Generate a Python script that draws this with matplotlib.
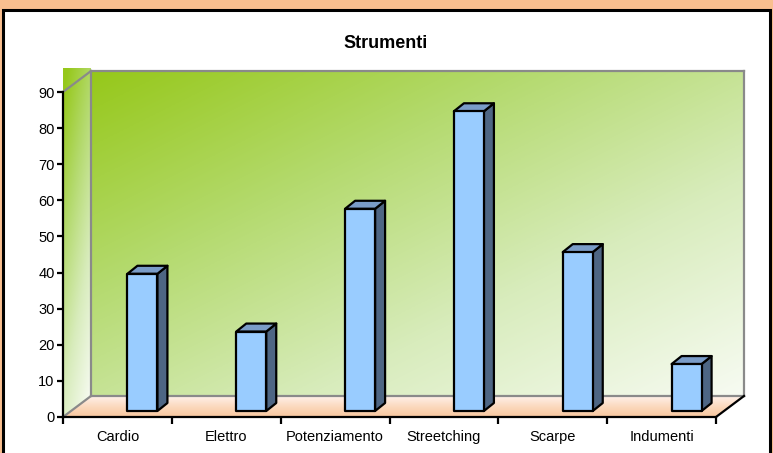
import numpy as np
import matplotlib
matplotlib.use("Agg")
import matplotlib.pyplot as plt
from matplotlib.patches import Polygon, Rectangle
from matplotlib.colors import LinearSegmentedColormap
from matplotlib.lines import Line2D

# ---------------- data ----------------
categories = ['Cardio', 'Elettro', 'Potenziamento', 'Streetching', 'Scarpe', 'Indumenti']
values = [38, 22, 56, 83, 44, 13]
yticks = list(range(0, 91, 10))
title = 'Strumenti'

# ---------------- layout (pixels) ----------------
W, H = 773, 453
L, R, B, T = 63, 716, 417, 92          # front plot box (pixel coords, y from top)
plt.rcParams['font.family'] = ['Liberation Sans', 'DejaVu Sans']

fig = plt.figure(figsize=(W / 100, H / 100), dpi=100, facecolor='#F9BF8F')
fig.patches.append(Rectangle((3 / W, -0.1), (770 - 3) / W, (H - 10) / H + 0.1,
                             transform=fig.transFigure, facecolor='white',
                             edgecolor='black', lw=2.2, zorder=-5))

ax = fig.add_axes([L / W, 1 - B / H, (R - L) / W, (B - T) / H])
ax.set_zorder(2)
ax.patch.set_visible(False)
n = len(categories)
xmin, xmax = -0.5, n - 0.5
ymin, ymax = 0, 90
sx = (xmax - xmin) / (R - L)           # data units per pixel
sy = (ymax - ymin) / (B - T)
DX, DY = 28 * sx, 21 * sy              # depth of the 3-D walls


def grad(extent, clip_pts, func, colors, z):
    u = np.linspace(0, 1, 200)
    U, V = np.meshgrid(u, u)
    Z = np.clip(func(U, V), 0, 1)
    cmap = LinearSegmentedColormap.from_list('g', colors)
    im = ax.imshow(Z, extent=extent, origin='lower', cmap=cmap, vmin=0, vmax=1,
                   aspect='auto', interpolation='bilinear', zorder=z)
    poly = Polygon(clip_pts, closed=True, transform=ax.transData)
    im.set_clip_path(poly)
    im.set_clip_box(fig.bbox)


green = ['#F7FBF2', '#D8ECBC', '#B4DA6E', '#96C81A']
# back wall
bx0, bx1, by0, by1 = xmin + DX, xmax + DX, ymin + DY, ymax + DY
grad((bx0, bx1, by0, by1), [(bx0, by0), (bx1, by0), (bx1, by1), (bx0, by1)],
     lambda U, V: ((1 - U) * 0.5 + V * 0.5), green, 0)
# left wall (drawn as full rectangle)
top_l = ymax + DY + 3 * sy
grad((xmin, xmin + DX, ymin, top_l),
     [(xmin, ymin), (xmin + DX, ymin), (xmin + DX, top_l), (xmin, top_l)],
     lambda U, V: 0.35 * (1 - U) + 0.75 * V - 0.05, green, 0)
# floor
grad((xmin, xmax + DX, ymin, ymin + DY),
     [(xmin, ymin), (xmax, ymin), (xmax + DX, ymin + DY), (xmin + DX, ymin + DY)],
     lambda U, V: 1 - V, ['#FFF1EA', '#FBD9BE', '#F8C79E'], 0)

gray = '#8A8A8A'
edges = [
    ((bx0, bx1), (by1, by1)), ((bx1, bx1), (by0, by1)), ((bx0, bx0), (by0, by1)),
    ((bx0, bx1), (by0, by0)), ((xmin, bx0), (ymax, by1)), ((xmin, bx0), (ymin, by0)),
]
for xs, ys in edges:
    ax.add_line(Line2D(xs, ys, color=gray, lw=1.6, zorder=1, clip_on=False))
ax.add_line(Line2D((xmax, bx1), (ymin, by0), color='black', lw=1.6, zorder=3, clip_on=False))

# bars
bw = 30 * sx
off = 10 * sx
base = 6 * sy
ddx, ddy = 10 * sx, 8 * sy
for i, v in enumerate(values):
    x0 = i + off
    x1 = x0 + bw
    y0 = base
    y1 = base + v
    kw = dict(edgecolor='black', lw=1.6, joinstyle='round', clip_on=False, zorder=4)
    ax.add_patch(Polygon([(x1, y0), (x1 + ddx, y0 + ddy), (x1 + ddx, y1 + ddy), (x1, y1)],
                         facecolor='#4E6684', **kw))
    ax.add_patch(Polygon([(x0, y1), (x1, y1), (x1 + ddx, y1 + ddy), (x0 + ddx, y1 + ddy)],
                         facecolor='#7A9CC8', **kw))
    ax.add_patch(Rectangle((x0, y0), bw, v, facecolor='#99CCFF', **kw))

ax.set_xlim(xmin, xmax)
ax.set_ylim(ymin, ymax)
for s in ('top', 'right'):
    ax.spines[s].set_visible(False)
for s in ('left', 'bottom'):
    ax.spines[s].set_linewidth(1.6)
    ax.spines[s].set_zorder(5)

ax.set_yticks(yticks)
ax.tick_params(axis='y', length=4, width=1.6, pad=2, labelsize=10.5)
ax.set_xticks(range(n))
ax.set_xticklabels(categories)
ax.set_xticks(np.arange(xmin, xmax + 0.01, 1), minor=True)
ax.tick_params(axis='x', which='major', length=0, pad=9.5, labelsize=10.5)
ax.tick_params(axis='x', which='minor', length=5, width=1.6)

fig.text(386 / W, 1 - 43.5 / H, title, ha='center', va='center', fontsize=13, fontweight='bold')

fig.savefig('out.png', dpi=100, facecolor=fig.get_facecolor())
